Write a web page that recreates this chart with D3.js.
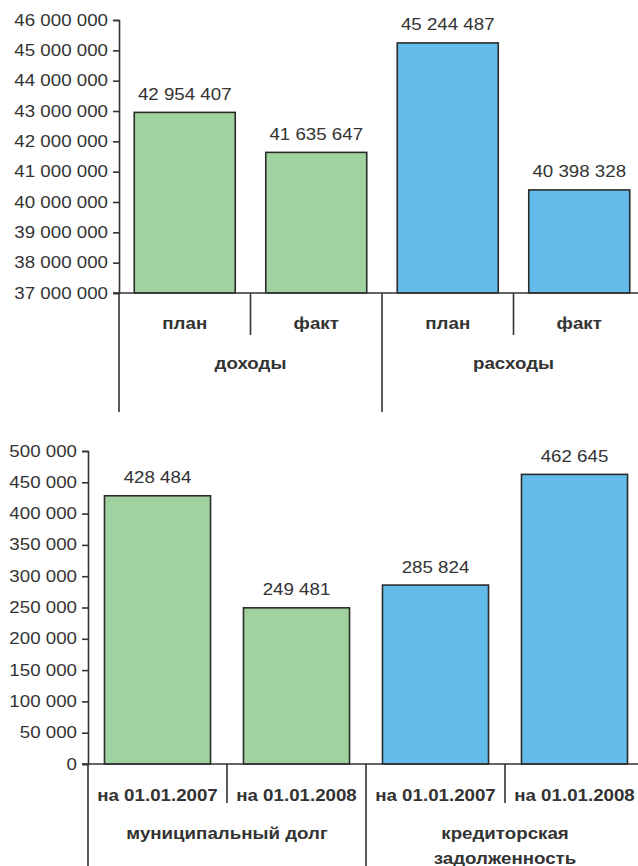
<!DOCTYPE html>
<html><head><meta charset="utf-8">
<script src="https://cdn.jsdelivr.net/npm/d3@7"></script>
<style>body{margin:0;background:#fff}svg{display:block}</style>
</head><body>
<svg id="c" width="638" height="866"></svg>
<script>
// Chart 1 data
const cats1 = ["план", "факт", "план", "факт"];
const groups1 = ["доходы", "расходы"];
const values1 = [42954407, 41635647, 45244487, 40398328];
const ticks1 = [37000000, 38000000, 39000000, 40000000, 41000000, 42000000, 43000000, 44000000, 45000000, 46000000];
// Chart 2 data
const cats2 = ["на 01.01.2007", "на 01.01.2008", "на 01.01.2007", "на 01.01.2008"];
const groups2 = [["муниципальный долг"], ["кредиторская", "задолженность"]];
const values2 = [428484, 249481, 285824, 462645];
const ticks2 = [0, 50000, 100000, 150000, 200000, 250000, 300000, 350000, 400000, 450000, 500000];
const barColors = ["#a0d2a0", "#a0d2a0", "#62bbe9", "#62bbe9"];

const svg = d3.select("#c");
const fmt = v => d3.format(",")(v).replace(/,/g, " ");
const SX = 1.17;
const INK = "#333";
const FONT = "'Liberation Sans', Arial, sans-serif";

function txt(g, x, y, s, opts = {}) {
  return g.append("text")
    .attr("transform", `translate(${x},${y}) scale(${SX},1)`)
    .attr("text-anchor", opts.anchor || "middle")
    .attr("dominant-baseline", "central")
    .attr("font-family", FONT)
    .attr("font-size", opts.size || 16)
    .attr("font-weight", opts.bold ? "bold" : "normal")
    .attr("fill", INK)
    .text(s);
}

function drawChart(cfg) {
  const g = svg.append("g");
  const y = d3.scaleLinear().domain(cfg.domain).range([cfg.y0, cfg.y1]);
  const xc = d3.scaleBand().domain(d3.range(4)).range([cfg.x0, cfg.x1]).padding(0);
  const xb = d3.scaleBand().domain(d3.range(4)).range([cfg.x0, cfg.x1])
    .paddingInner(cfg.pad).paddingOuter(cfg.pad / 2);

  // bars
  g.selectAll("rect.bar").data(cfg.values).join("rect")
    .attr("x", (d, i) => xb(i))
    .attr("y", d => y(d))
    .attr("width", xb.bandwidth())
    .attr("height", d => y(cfg.domain[0]) - y(d))
    .attr("fill", (d, i) => barColors[i])
    .attr("stroke", "#2b2b2b")
    .attr("stroke-width", 1.6);

  // value labels
  cfg.values.forEach((v, i) => txt(g, xb(i) + xb.bandwidth() / 2, y(v) - 18, fmt(v)));

  // y axis
  const ax = d3.axisLeft(y).tickValues(cfg.ticks).tickSize(6).tickPadding(6).tickFormat(fmt);
  const axg = g.append("g").attr("transform", `translate(${cfg.x0},0)`).call(ax);
  axg.select(".domain").attr("stroke", INK).attr("stroke-width", 1.6);
  axg.selectAll(".tick line").attr("stroke", INK).attr("stroke-width", 1.6);
  axg.selectAll(".tick text").remove();
  cfg.ticks.forEach(t => txt(g, cfg.x0 - 11, y(t), fmt(t), { anchor: "end" }));

  // baseline
  g.append("line").attr("x1", cfg.x0 - 6).attr("x2", 638)
    .attr("y1", y(cfg.domain[0])).attr("y2", y(cfg.domain[0]))
    .attr("stroke", INK).attr("stroke-width", 1.6);

  const base = y(cfg.domain[0]);
  // separators
  [0, 2].forEach(i => g.append("line").attr("x1", xc(i)).attr("x2", xc(i))
    .attr("y1", base).attr("y2", cfg.groupEnd).attr("stroke", INK).attr("stroke-width", 1.6));
  [1, 3].forEach(i => g.append("line").attr("x1", xc(i)).attr("x2", xc(i))
    .attr("y1", base).attr("y2", cfg.catEnd).attr("stroke", INK).attr("stroke-width", 1.6));

  // category labels
  cfg.cats.forEach((c, i) => txt(g, xc(i) + xc.bandwidth() / 2, cfg.catY, c, { bold: true }));
  cfg.groups.forEach((lines, gi) => {
    const cx = (xc(gi * 2) + xc(gi * 2 + 1) + xc.bandwidth()) / 2;
    [].concat(lines).forEach((l, li) => txt(g, cx, cfg.groupY + li * cfg.lineH, l, { bold: true }));
  });
}

drawChart({
  values: values1, ticks: ticks1, cats: cats1, groups: groups1,
  domain: [37000000, 46000000], y0: 293, y1: 20,
  x0: 119, x1: 645, pad: 0.232,
  catEnd: 335, groupEnd: 412, catY: 323, groupY: 363, lineH: 25
});

drawChart({
  values: values2, ticks: ticks2, cats: cats2, groups: groups2,
  domain: [0, 500000], y0: 764, y1: 451,
  x0: 88, x1: 644, pad: 0.237,
  catEnd: 803, groupEnd: 866, catY: 795, groupY: 833, lineH: 25
});
</script>
</body></html>
